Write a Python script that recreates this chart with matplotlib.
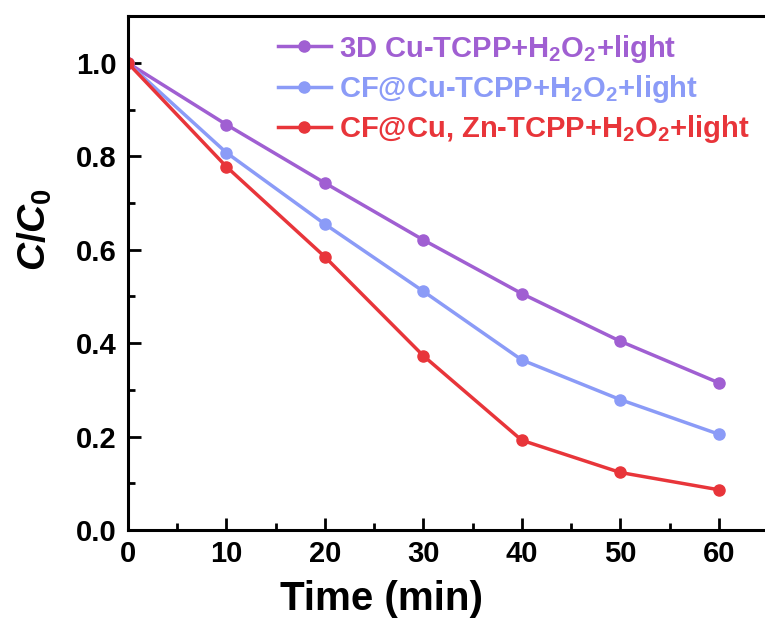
import matplotlib
matplotlib.use('Agg')
import matplotlib.pyplot as plt
from matplotlib.ticker import MultipleLocator, FormatStrFormatter

plt.rcParams['font.family'] = ['Liberation Sans', 'DejaVu Sans']
plt.rcParams['font.weight'] = 'bold'
plt.rcParams['mathtext.fontset'] = 'custom'
plt.rcParams['mathtext.rm'] = 'Liberation Sans:bold'
plt.rcParams['mathtext.bf'] = 'Liberation Sans:bold'
plt.rcParams['mathtext.it'] = 'Liberation Sans:italic:bold'

time_min = [0, 10, 20, 30, 40, 50, 60]
cu_tcpp_3d = [1.0, 0.868, 0.743, 0.621, 0.506, 0.404, 0.315]
cf_cu_tcpp = [1.0, 0.808, 0.655, 0.511, 0.364, 0.279, 0.205]
cf_cuzn_tcpp = [1.0, 0.778, 0.585, 0.373, 0.192, 0.123, 0.086]

labels = [r'3D Cu-TCPP+H$_2$O$_2$+light',
          r'CF@Cu-TCPP+H$_2$O$_2$+light',
          r'CF@Cu, Zn-TCPP+H$_2$O$_2$+light']
colors = ['#A05FD2', '#8B9BF7', '#E8353A']
series = [cu_tcpp_3d, cf_cu_tcpp, cf_cuzn_tcpp]

fig = plt.figure(figsize=(7.65, 6.22), dpi=100)
ax = fig.add_axes([0.167, 0.148, 0.837, 0.826])

for vals, lab, col in zip(series, labels, colors):
    ax.plot(time_min, vals, color=col, lw=2.5, marker='o', ms=8,
            mec=col, mfc=col, label=lab)

ax.set_xlim(0, 65)
ax.set_ylim(0, 1.1)
ax.xaxis.set_major_locator(MultipleLocator(10))
ax.xaxis.set_minor_locator(MultipleLocator(5))
ax.yaxis.set_major_locator(MultipleLocator(0.2))
ax.yaxis.set_minor_locator(MultipleLocator(0.1))
ax.yaxis.set_major_formatter(FormatStrFormatter('%.1f'))
ax.tick_params(which='both', direction='in', width=2, labelsize=21,
               top=False, right=False)
ax.tick_params(which='major', length=9)
ax.tick_params(which='minor', length=5)
ax.tick_params(axis='x', pad=7)
ax.tick_params(axis='y', pad=8)
for sp in ax.spines.values():
    sp.set_linewidth(2.2)

ax.set_xlabel('Time (min)', fontsize=29, fontweight='bold')
ax.xaxis.set_label_coords(0.397, -0.097)
ax.set_ylabel(r'$\mathit{C/C_0}$', fontsize=28)
ax.yaxis.set_label_coords(-0.115, 0.584)

leg = ax.legend(loc='upper left', bbox_to_anchor=(0.235, 0.968),
                frameon=False, fontsize=21, handlelength=1.8,
                handletextpad=0.3, labelspacing=0.28, borderpad=0,
                borderaxespad=0, labelcolor='linecolor')

fig.savefig('out.png', dpi=100)
